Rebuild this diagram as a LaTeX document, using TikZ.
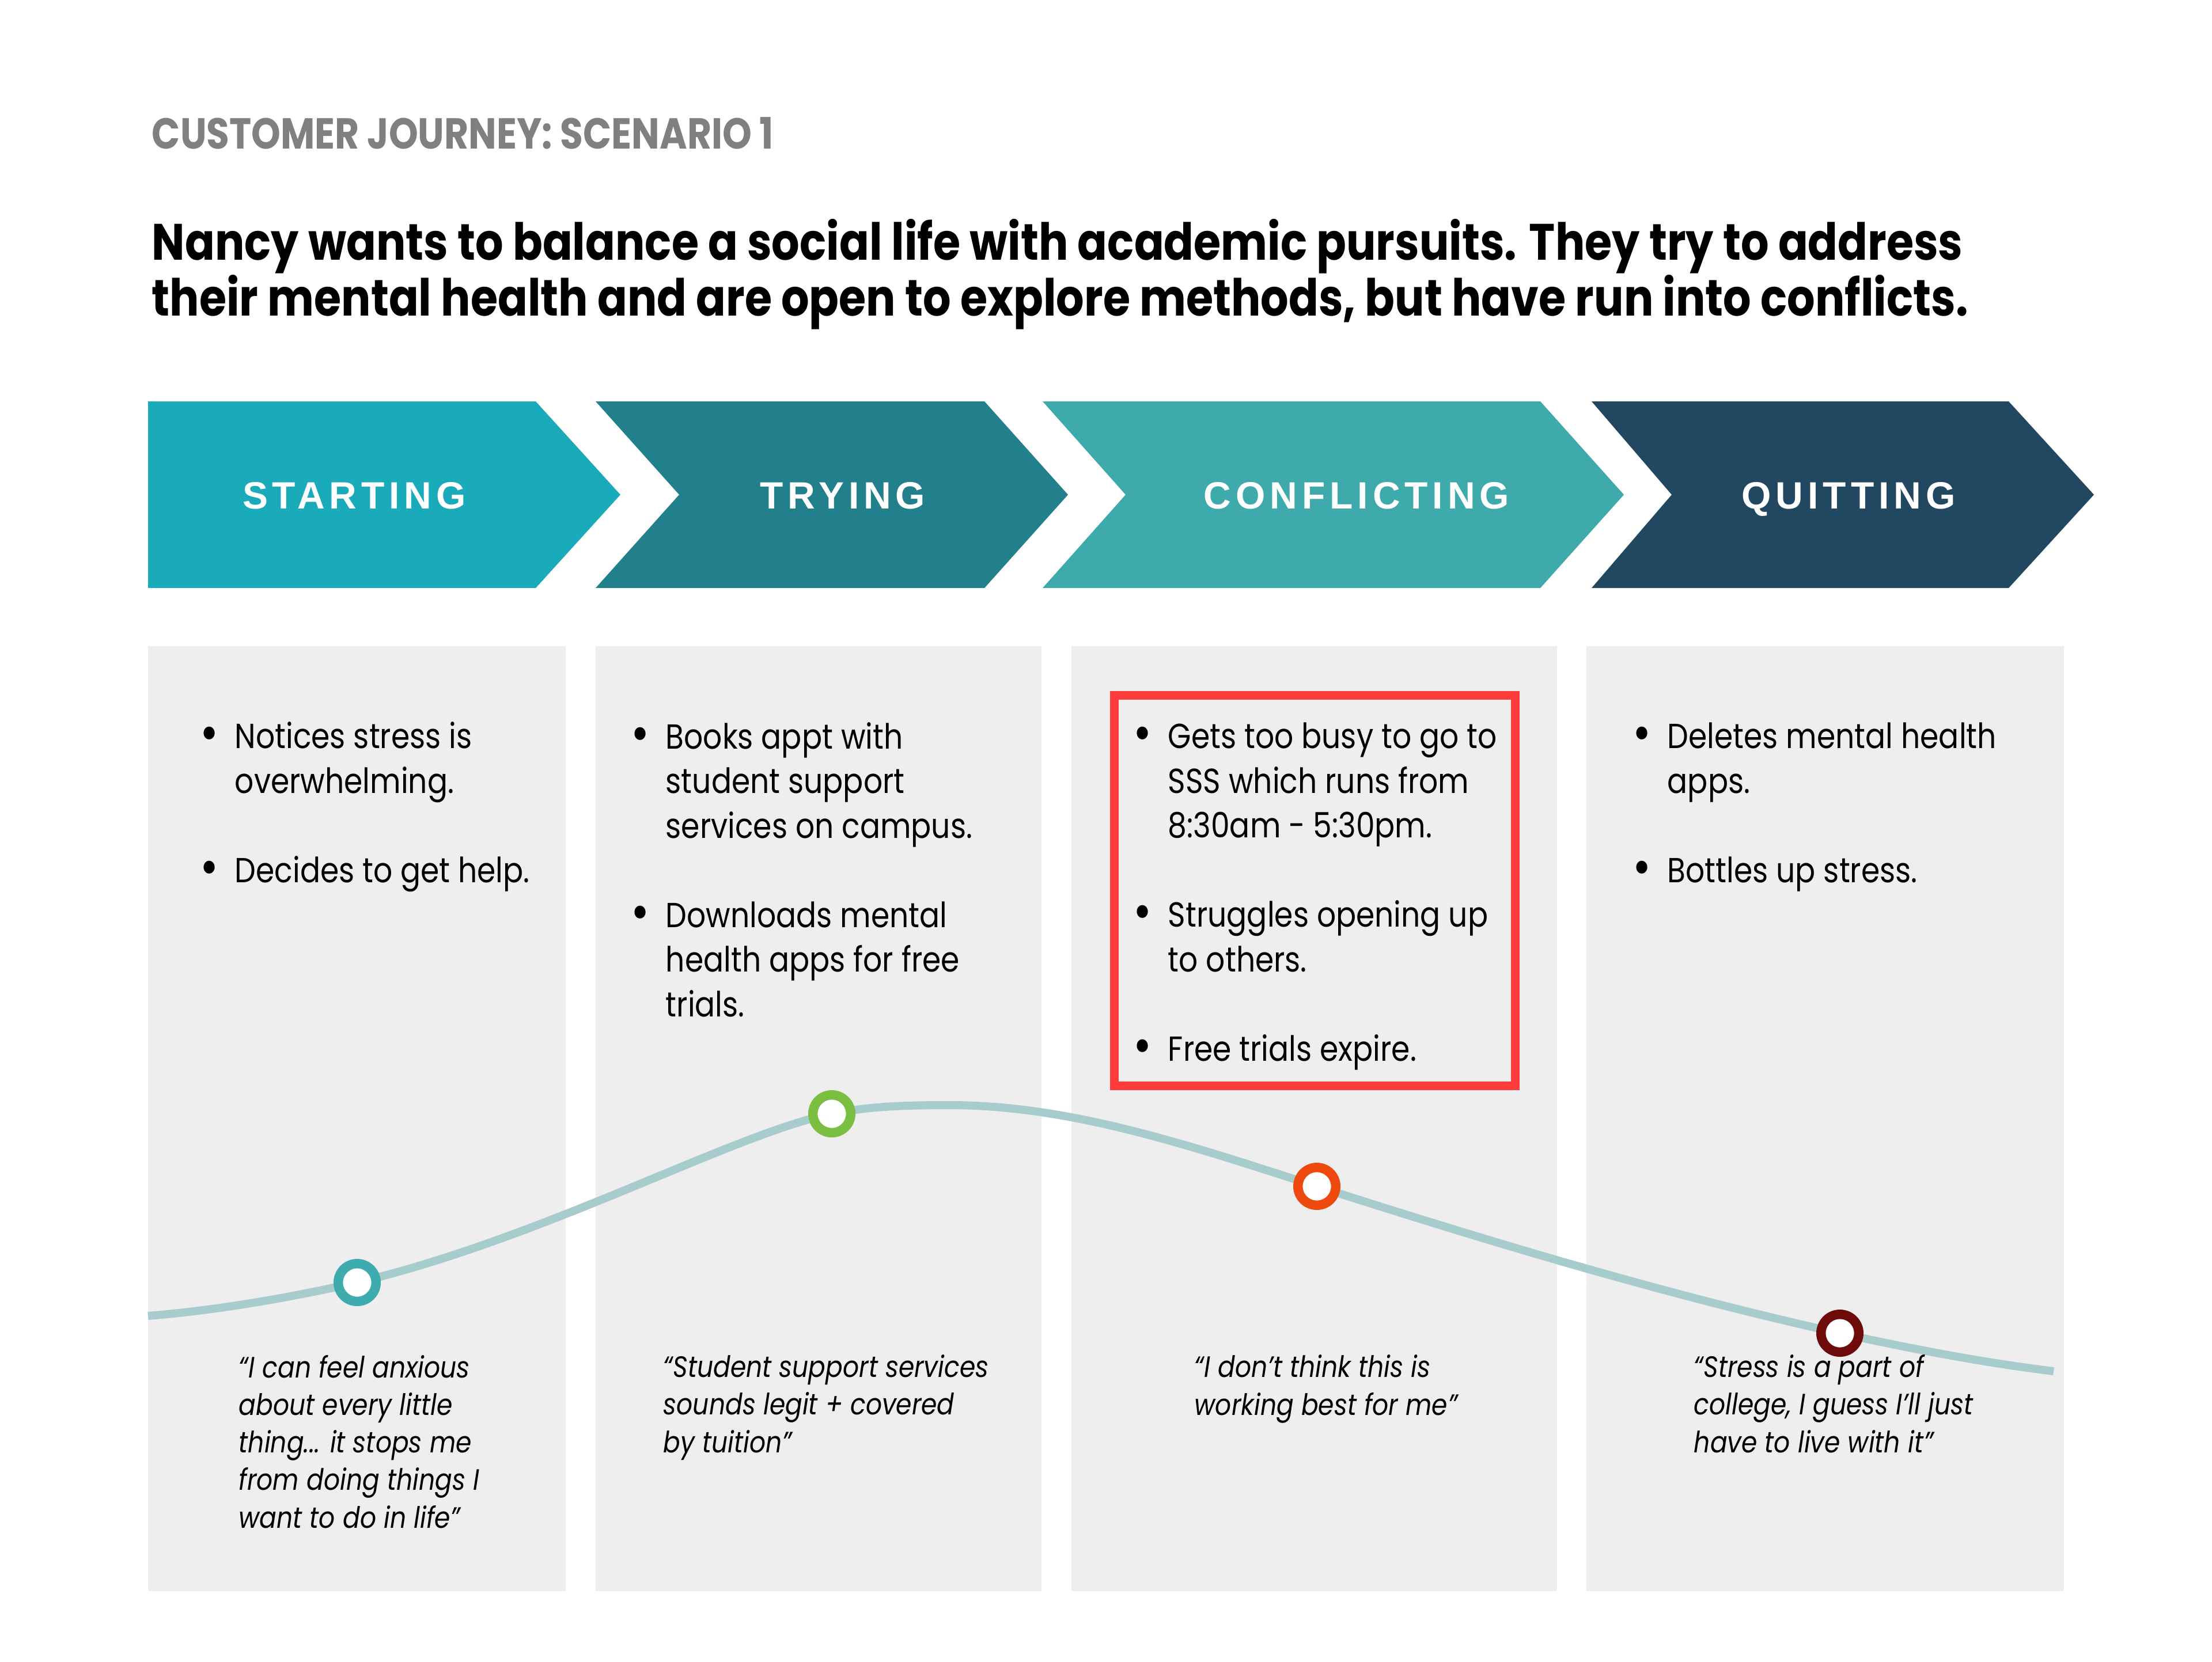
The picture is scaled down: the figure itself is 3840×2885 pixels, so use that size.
\documentclass[tikz,border=0pt]{standalone}
\usepackage{fontspec}
\usepackage{graphicx}
\setmainfont{Poppins}[FakeStretch=0.86]
\newfontfamily\stagefont{Liberation Sans}[LetterSpace=12]
\usepackage{xcolor}
\definecolor{startcol}{RGB}{26,171,186}
\definecolor{trycol}{RGB}{33,128,139}
\definecolor{conflictcol}{RGB}{63,170,172}
\definecolor{quitcol}{RGB}{33,72,96}
\definecolor{panelgray}{RGB}{238,238,238}
\definecolor{curvecol}{RGB}{168,204,206}
\definecolor{ringa}{RGB}{62,172,174}
\definecolor{ringb}{RGB}{122,190,66}
\definecolor{ringc}{RGB}{238,74,16}
\definecolor{ringd}{RGB}{110,10,10}
\definecolor{boxred}{RGB}{255,59,59}
\definecolor{subgray}{RGB}{128,128,128}
\newcommand{\bul}{\llap{\raisebox{-1pt}{\scalebox{1.5}{\textbullet}}\hspace{7pt}}}

\begin{document}
\begin{tikzpicture}[x=0.25pt,y=-0.25pt,
    panel/.style={fill=panelgray},
    stage/.style={anchor=base,text=white,inner sep=0pt,font=\stagefont\fontsize{16.5}{20}\selectfont\bfseries},
    bullets/.style={anchor=base west,align=left,inner sep=0pt,font=\fontsize{15.1}{19.375}\selectfont},
    quote/.style={anchor=base west,align=left,inner sep=0pt,font=\fontsize{12.8}{16.3}\selectfont\itshape},
    ring/.style={circle,draw,line width=4.1pt,fill=white,minimum size=16.4pt,inner sep=0pt}]
    \fill[white] (0,0) rectangle (3840,2885);
    \useasboundingbox (0,0) rectangle (3840,2885);

    % base anchors sit on the last line of each block
    \node[anchor=base west,inner sep=0pt,text=subgray,font=\fontsize{18.8}{22}\selectfont\bfseries] (sub) at (263,258) {CUSTOMER JOURNEY: SCENARIO 1};
    \node[anchor=base west,align=left,inner sep=0pt,font=\fontsize{22.2}{24.25}\selectfont\bfseries] (title) at (263,548)
        {Nancy wants to balance a social life with academic pursuits. They try to address\\their mental health and are open to explore methods, but have run into conflicts.};

    \fill[startcol] (257,697) -- (930,697) -- (1077,859) -- (930,1021) -- (257,1021) -- cycle;
    \fill[trycol] (1034,697) -- (1709,697) -- (1854,859) -- (1709,1021) -- (1034,1021) -- (1179,859) -- cycle;
    \fill[conflictcol] (1810,697) -- (2674,697) -- (2819,859) -- (2674,1021) -- (1810,1021) -- (1954,859) -- cycle;
    \fill[quitcol] (2763,697) -- (3487,697) -- (3635,859) -- (3487,1021) -- (2763,1021) -- (2902,859) -- cycle;

    \node[stage] (starting) at (615,883) {STARTING};
    \node[stage] (trying) at (1463,883) {TRYING};
    \node[stage] (conflicting) at (2355,883) {CONFLICTING};
    \node[stage] (quitting) at (3209,883) {QUITTING};

    \foreach \l/\r in {257/982,1034/1808,1860/2703,2754/3583}
    {
        \fill[panel] (\l,1122) rectangle (\r,2763);
    }

    \node[bullets] (list1) at (407,1532) {\bul Notices stress is\\overwhelming.\\[19.375pt]\bul Decides to get help.};
    \node[bullets] (list2) at (1155,1765) {\bul Books appt with\\student support\\services on campus.\\[19.375pt]\bul Downloads mental\\health apps for free\\trials.};
    \node[bullets] (list3) at (2027,1842) {\bul Gets too busy to go to\\SSS which runs from\\8:30am - 5:30pm.\\[19.375pt]\bul Struggles opening up\\to others.\\[19.375pt]\bul Free trials expire.};
    \node[bullets] (list4) at (2894,1532) {\bul Deletes mental health\\apps.\\[19.375pt]\bul Bottles up stress.};

    \draw[boxred,line width=3.75pt] (1934.5,1207.5) rectangle (2630.5,1885.5);

    \coordinate (c0) at (257,2285);
    \coordinate (p1) at (620,2227);
    \coordinate (p2) at (1444,1934);
    \coordinate (top) at (1650,1919);
    \coordinate (p3) at (2286,2060);
    \coordinate (p4) at (3194,2315);
    \coordinate (c9) at (3565,2381);
    \draw[curvecol,line width=3.5pt] (c0) .. controls (378,2275) and (499,2254) .. (p1)
        .. controls (950,2148) and (1274,1968) .. (p2)
        .. controls (1513,1920) and (1581,1919) .. (top)
        .. controls (1862,1919) and (2074,1992) .. (p3)
        .. controls (2589,2157) and (2891,2248) .. (p4)
        .. controls (3318,2342) and (3441,2366) .. (c9);

    \foreach \p/\c in {p1/ringa,p2/ringb,p3/ringc,p4/ringd}
    {
        \node[ring,draw=\c] (dot-\p) at (\p) {};
    }

    \node[quote] (quote1) at (414,2653) {“I can feel anxious\\about every little\\thing... it stops me\\from doing things I\\want to do in life”};
    \node[quote] (quote2) at (1151,2522) {“Student support services\\sounds legit + covered\\by tuition”};
    \node[quote] (quote3) at (2073,2457) {“I don’t think this is\\working best for me”};
    \node[quote] (quote4) at (2940,2522) {“Stress is a part of\\college, I guess I’ll just\\have to live with it”};
\end{tikzpicture}
\end{document}
